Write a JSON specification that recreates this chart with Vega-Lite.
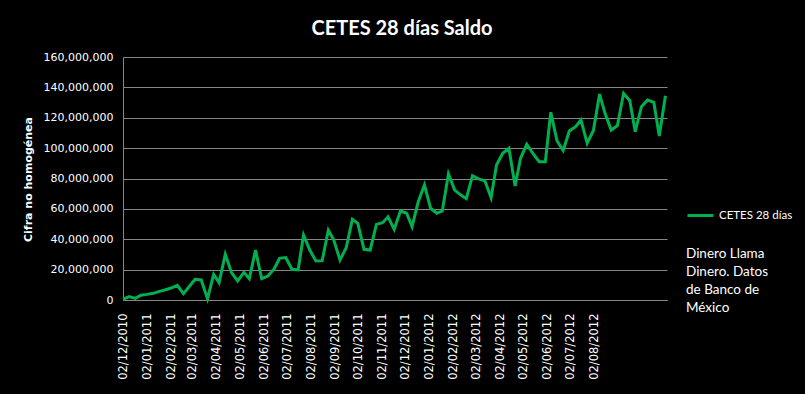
{
  "$schema": "https://vega.github.io/schema/vega-lite/v6.json",
  "width": 544,
  "height": 243,
  "autosize": {"type": "none"},
  "padding": {"left": 123, "top": 57, "right": 138, "bottom": 94},
  "background": "#000000",
  "config": {
    "view": {"stroke": null},
    "axis": {"domainColor": "#868686", "gridColor": "#868686", "labelColor": "#FFFFFF", "titleColor": "#FFFFFF", "labelFont": "DejaVu Sans", "labelFontSize": 11, "ticks": false}
  },
  "title": {"text": "CETES 28 días Saldo", "color": "#FFFFFF", "font": "Lato", "fontSize": 20, "fontWeight": "bold", "anchor": "middle", "dx": 7, "offset": 12},
  "data": {
    "values": [
      {"fecha": "2010-12-02", "saldo": 500000},
      {"fecha": "2010-12-10", "saldo": 2200000},
      {"fecha": "2010-12-18", "saldo": 1100000},
      {"fecha": "2010-12-25", "saldo": 3100000},
      {"fecha": "2011-01-02", "saldo": 3700000},
      {"fecha": "2011-01-10", "saldo": 4400000},
      {"fecha": "2011-01-18", "saldo": 5700000},
      {"fecha": "2011-01-25", "saldo": 6600000},
      {"fecha": "2011-02-02", "saldo": 7900000},
      {"fecha": "2011-02-10", "saldo": 9700000},
      {"fecha": "2011-02-18", "saldo": 4200000},
      {"fecha": "2011-02-26", "saldo": 9200000},
      {"fecha": "2011-03-05", "saldo": 13600000},
      {"fecha": "2011-03-13", "saldo": 13200000},
      {"fecha": "2011-03-21", "saldo": 700000},
      {"fecha": "2011-03-29", "saldo": 16900000},
      {"fecha": "2011-04-05", "saldo": 11400000},
      {"fecha": "2011-04-13", "saldo": 30100000},
      {"fecha": "2011-04-21", "saldo": 18000000},
      {"fecha": "2011-04-29", "saldo": 12500000},
      {"fecha": "2011-05-07", "saldo": 18200000},
      {"fecha": "2011-05-14", "saldo": 14000000},
      {"fecha": "2011-05-22", "saldo": 32900000},
      {"fecha": "2011-05-30", "saldo": 14000000},
      {"fecha": "2011-06-07", "saldo": 15800000},
      {"fecha": "2011-06-15", "saldo": 20400000},
      {"fecha": "2011-06-22", "saldo": 27400000},
      {"fecha": "2011-06-30", "saldo": 27900000},
      {"fecha": "2011-07-08", "saldo": 20200000},
      {"fecha": "2011-07-16", "saldo": 19800000},
      {"fecha": "2011-07-23", "saldo": 42800000},
      {"fecha": "2011-07-31", "saldo": 32900000},
      {"fecha": "2011-08-08", "saldo": 25700000},
      {"fecha": "2011-08-16", "saldo": 25900000},
      {"fecha": "2011-08-24", "saldo": 46100000},
      {"fecha": "2011-08-31", "saldo": 39500000},
      {"fecha": "2011-09-08", "saldo": 26300000},
      {"fecha": "2011-09-16", "saldo": 34400000},
      {"fecha": "2011-09-24", "saldo": 53100000},
      {"fecha": "2011-10-01", "saldo": 50500000},
      {"fecha": "2011-10-09", "saldo": 33400000},
      {"fecha": "2011-10-17", "saldo": 32900000},
      {"fecha": "2011-10-25", "saldo": 49800000},
      {"fecha": "2011-11-02", "saldo": 50900000},
      {"fecha": "2011-11-09", "saldo": 54800000},
      {"fecha": "2011-11-17", "saldo": 46500000},
      {"fecha": "2011-11-25", "saldo": 58600000},
      {"fecha": "2011-12-03", "saldo": 57100000},
      {"fecha": "2011-12-10", "saldo": 48300000},
      {"fecha": "2011-12-18", "saldo": 64700000},
      {"fecha": "2011-12-26", "saldo": 75700000},
      {"fecha": "2012-01-03", "saldo": 60400000},
      {"fecha": "2012-01-11", "saldo": 57100000},
      {"fecha": "2012-01-18", "saldo": 58600000},
      {"fecha": "2012-01-26", "saldo": 83000000},
      {"fecha": "2012-02-03", "saldo": 72400000},
      {"fecha": "2012-02-11", "saldo": 69100000},
      {"fecha": "2012-02-18", "saldo": 66700000},
      {"fecha": "2012-02-26", "saldo": 81900000},
      {"fecha": "2012-03-05", "saldo": 79700000},
      {"fecha": "2012-03-13", "saldo": 78400000},
      {"fecha": "2012-03-21", "saldo": 67400000},
      {"fecha": "2012-03-28", "saldo": 88900000},
      {"fecha": "2012-04-05", "saldo": 96600000},
      {"fecha": "2012-04-13", "saldo": 99900000},
      {"fecha": "2012-04-21", "saldo": 75100000},
      {"fecha": "2012-04-28", "saldo": 93300000},
      {"fecha": "2012-05-06", "saldo": 102500000},
      {"fecha": "2012-05-14", "saldo": 96600000},
      {"fecha": "2012-05-22", "saldo": 91100000},
      {"fecha": "2012-05-30", "saldo": 91100000},
      {"fecha": "2012-06-06", "saldo": 123600000},
      {"fecha": "2012-06-14", "saldo": 104900000},
      {"fecha": "2012-06-22", "saldo": 98400000},
      {"fecha": "2012-06-30", "saldo": 111300000},
      {"fecha": "2012-07-08", "saldo": 114100000},
      {"fecha": "2012-07-15", "saldo": 118500000},
      {"fecha": "2012-07-23", "saldo": 103200000},
      {"fecha": "2012-07-31", "saldo": 111600000},
      {"fecha": "2012-08-08", "saldo": 135600000},
      {"fecha": "2012-08-15", "saldo": 122900000},
      {"fecha": "2012-08-23", "saldo": 111900000},
      {"fecha": "2012-08-31", "saldo": 114800000},
      {"fecha": "2012-09-08", "saldo": 136100000},
      {"fecha": "2012-09-16", "saldo": 131200000},
      {"fecha": "2012-09-23", "saldo": 110800000},
      {"fecha": "2012-10-01", "saldo": 127300000},
      {"fecha": "2012-10-09", "saldo": 131700000},
      {"fecha": "2012-10-17", "saldo": 130200000},
      {"fecha": "2012-10-24", "saldo": 108000000},
      {"fecha": "2012-11-01", "saldo": 134500000}
    ]
  },
  "mark": {"type": "line", "strokeWidth": 3, "strokeJoin": "miter", "clip": false},
  "encoding": {
    "x": {
      "field": "fecha",
      "type": "temporal",
      "scale": {"type": "utc", "domain": [{"year": 2010, "month": 12, "date": 2, "utc": true}, {"year": 2012, "month": 11, "date": 3, "utc": true}]},
      "axis": {
        "title": null,
        "grid": false,
        "format": "%d/%m/%Y",
        "labelAngle": -90,
        "labelPadding": 13,
        "labelFontSize": 11.5,
        "labelOverlap": false,
        "values": [
          {"year": 2010, "month": 12, "date": 2, "utc": true},
          {"year": 2011, "month": 1, "date": 2, "utc": true},
          {"year": 2011, "month": 2, "date": 2, "utc": true},
          {"year": 2011, "month": 3, "date": 2, "utc": true},
          {"year": 2011, "month": 4, "date": 2, "utc": true},
          {"year": 2011, "month": 5, "date": 2, "utc": true},
          {"year": 2011, "month": 6, "date": 2, "utc": true},
          {"year": 2011, "month": 7, "date": 2, "utc": true},
          {"year": 2011, "month": 8, "date": 2, "utc": true},
          {"year": 2011, "month": 9, "date": 2, "utc": true},
          {"year": 2011, "month": 10, "date": 2, "utc": true},
          {"year": 2011, "month": 11, "date": 2, "utc": true},
          {"year": 2011, "month": 12, "date": 2, "utc": true},
          {"year": 2012, "month": 1, "date": 2, "utc": true},
          {"year": 2012, "month": 2, "date": 2, "utc": true},
          {"year": 2012, "month": 3, "date": 2, "utc": true},
          {"year": 2012, "month": 4, "date": 2, "utc": true},
          {"year": 2012, "month": 5, "date": 2, "utc": true},
          {"year": 2012, "month": 6, "date": 2, "utc": true},
          {"year": 2012, "month": 7, "date": 2, "utc": true},
          {"year": 2012, "month": 8, "date": 2, "utc": true}
        ]
      }
    },
    "y": {
      "field": "saldo",
      "type": "quantitative",
      "scale": {"domain": [0, 160000000], "nice": false},
      "axis": {
        "title": "Cifra no homogénea",
        "titleFont": "DejaVu Sans",
        "titleFontSize": 11,
        "titleFontWeight": "bold",
        "titleAngle": -90,
        "titleX": -95,
        "titleY": 122,
        "titleAlign": "center",
        "titleBaseline": "middle",
        "format": ",d",
        "values": [0, 20000000, 40000000, 60000000, 80000000, 100000000, 120000000, 140000000, 160000000],
        "labelPadding": 10,
        "grid": true
      }
    },
    "color": {
      "datum": "CETES 28 días",
      "type": "nominal",
      "scale": {"range": ["#00B050"]},
      "legend": {
        "orient": "none",
        "legendX": 563,
        "legendY": 144,
        "symbolType": "stroke",
        "symbolSize": 676,
        "symbolStrokeWidth": 3,
        "labelColor": "#FFFFFF",
        "labelFont": "Lato",
        "labelFontSize": 11.5,
        "labelOffset": 4,
        "title": ["Dinero Llama", "Dinero. Datos", "de Banco de", "México"],
        "titleOrient": "bottom",
        "titleColor": "#FFFFFF",
        "titleFont": "Lato",
        "titleFontSize": 13.5,
        "titleFontWeight": "normal",
        "titleLineHeight": 18,
        "titlePadding": 25,
        "titleAnchor": "start",
        "titleAlign": "left",
        "titleLimit": 200
      }
    }
  }
}
